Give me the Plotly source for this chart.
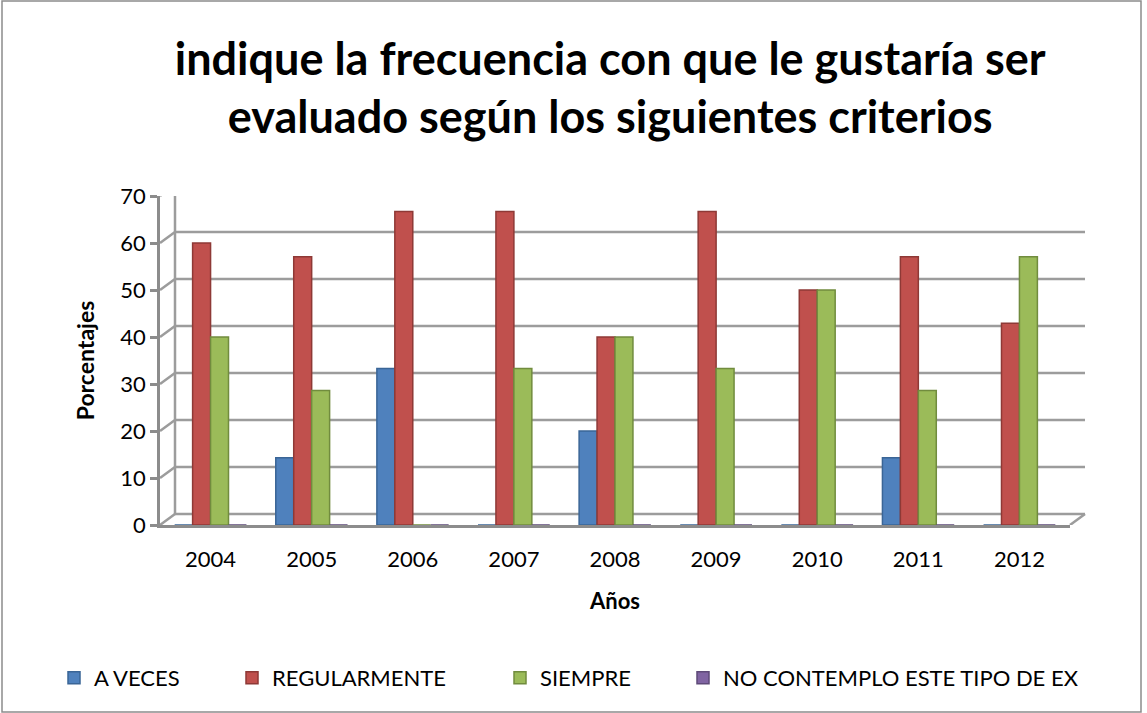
import plotly.graph_objects as go

years = ["2004", "2005", "2006", "2007", "2008", "2009", "2010", "2011", "2012"]
a_veces = [0, 14.3, 33.3, 0, 20, 0, 0, 14.3, 0]
regularmente = [60, 57.1, 66.7, 66.7, 40, 66.7, 50, 57.1, 42.9]
siempre = [40, 28.6, 0, 33.3, 40, 33.3, 50, 28.6, 57.1]
no_contemplo = [0, 0, 0, 0, 0, 0, 0, 0, 0]
y_ticks = [0, 10, 20, 30, 40, 50, 60, 70]

series = [
    ("A VECES", a_veces, "#4F81BD", "#3A6596"),
    ("REGULARMENTE", regularmente, "#C0504D", "#8E3936"),
    ("SIEMPRE", siempre, "#9BBB59", "#718C3E"),
    ("NO CONTEMPLO ESTE TIPO DE EX", no_contemplo, "#8064A2", "#5E4A78"),
]
legend_left_px = [54, 232, 500, 683]

font_family = "Lato, Open Sans, sans-serif"
W, H = 1147, 713
L, R, T, B = 160, W - 1070, 196, H - 525
plot_h = H - T - B
DX, DY = 15, 11  # pseudo-3D depth offset in pixels
grid_col = "#9c9c9c"

fig = go.Figure()
for i, (name, vals, col, edge) in enumerate(series):
    fig.add_trace(go.Bar(
        x=years, y=vals, name=name,
        marker=dict(color=col, line=dict(color=edge, width=1.5)),
        legend=f"legend{i+2}", showlegend=True,
    ))

shapes = []
for v in y_ticks:
    shapes.append(dict(type="line", xref="paper", xsizemode="pixel", xanchor=0,
                       x0=DX, x1=DX + (1085 - 175), yref="y", ysizemode="pixel",
                       yanchor=v, y0=DY, y1=DY, line=dict(color=grid_col, width=2.5),
                       layer="below"))
    shapes.append(dict(type="line", xref="paper", xsizemode="pixel", xanchor=0,
                       x0=0, x1=DX, yref="y", ysizemode="pixel",
                       yanchor=v, y0=0, y1=DY, line=dict(color=grid_col, width=2.5),
                       layer="below"))
shapes.append(dict(type="line", xref="paper", xsizemode="pixel", xanchor=0,
                   x0=DX, x1=DX, yref="y", ysizemode="pixel", yanchor=0,
                   y0=DY, y1=DY + plot_h, line=dict(color=grid_col, width=2.5),
                   layer="below"))
shapes.append(dict(type="line", xref="paper", xsizemode="pixel", xanchor=1,
                   x0=0, x1=DX, yref="y", ysizemode="pixel", yanchor=0,
                   y0=0, y1=DY, line=dict(color=grid_col, width=2.5),
                   layer="below"))
shapes.append(dict(type="rect", xref="paper", yref="paper",
                   x0=(2 - L) / (W - L - R), x1=(1141 - L) / (W - L - R),
                   y0=-(B - 1) / plot_h, y1=1 + (T - 1) / plot_h,
                   line=dict(color="#8c8c8c", width=1.5),
                   fillcolor="rgba(0,0,0,0)", layer="below"))

layout_legends = {}
for i, px in enumerate(legend_left_px):
    layout_legends[f"legend{i+2}"] = dict(
        orientation="h", xref="container", yref="container",
        x=px / W, xanchor="left", y=1 - 678 / H, yanchor="middle",
        font=dict(size=22), itemwidth=30, bgcolor="rgba(0,0,0,0)",
    )

fig.update_layout(
    width=W, height=H,
    paper_bgcolor="white", plot_bgcolor="rgba(0,0,0,0)",
    barmode="group", bargap=0.29, bargroupgap=0.0,
    margin=dict(l=L, r=R, t=T, b=B),
    font=dict(family=font_family, size=22, color="black"),
    title=dict(
        text="<b>indique la frecuencia con que le gustaría ser<br>evaluado según los siguientes criterios</b>",
        x=0.532, xanchor="center", y=0.895, yanchor="middle",
        font=dict(size=45, family=font_family, color="black"),
    ),
    xaxis=dict(
        title=dict(text="<b>Años</b>", font=dict(size=22), standoff=23),
        showline=True, linecolor="#8c8c8c", linewidth=2.5,
        ticks="", tickfont=dict(size=22), ticklabelstandoff=13,
    ),
    yaxis=dict(
        title=dict(text="<b>Porcentajes</b>", font=dict(size=23), standoff=20),
        range=[0, 70], tickvals=y_ticks,
        showgrid=False,
        showline=True, linecolor="#8c8c8c", linewidth=2.5,
        ticks="outside", ticklen=7, tickcolor="#8c8c8c", tickwidth=2.5,
        tickfont=dict(size=22), zeroline=False,
    ),
    shapes=shapes,
    **layout_legends,
)

fig.write_html("out.html", config={"displayModeBar": False},
               post_script="document.body.style.margin='0px';")
